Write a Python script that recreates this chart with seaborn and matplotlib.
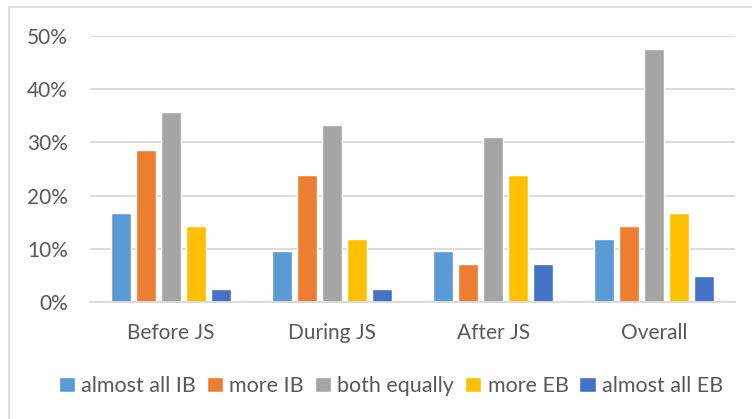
import matplotlib
matplotlib.use("Agg")
import matplotlib.pyplot as plt
from matplotlib.patches import Rectangle
from matplotlib.ticker import PercentFormatter
import seaborn as sns
import pandas as pd

# Share of respondents per phase (fractions)
phases = ["Before JS", "During JS", "After JS", "Overall"]
almost_all_ib = [0.167, 0.095, 0.095, 0.119]
more_ib = [0.286, 0.238, 0.071, 0.143]
both_equally = [0.357, 0.333, 0.310, 0.476]
more_eb = [0.143, 0.119, 0.238, 0.167]
almost_all_eb = [0.024, 0.024, 0.071, 0.048]

series_names = ["almost all IB", "more IB", "both equally", "more EB", "almost all EB"]
series_values = [almost_all_ib, more_ib, both_equally, more_eb, almost_all_eb]
palette = ["#5B9BD5", "#ED7D31", "#A5A5A5", "#FFC000", "#4472C4"]

rows = []
for name, vals in zip(series_names, series_values):
    for phase, v in zip(phases, vals):
        rows.append({"phase": phase, "series": name, "share": v})
df = pd.DataFrame(rows)

sns.set_theme(style="white")
plt.rcParams["font.family"] = ["Lato", "DejaVu Sans"]
text_color = "#595959"
grid_color = "#D9D9D9"

fig = plt.figure(figsize=(7.52, 4.19), dpi=100)
ax = fig.add_axes([90 / 752, 1 - 302 / 419, (735 - 90) / 752, (302 - 36) / 419])

sns.barplot(
    data=df, x="phase", y="share", hue="series",
    hue_order=series_names, order=phases, palette=palette,
    width=0.775, gap=0.2, saturation=1, ax=ax, legend=True,
)

ax.set_ylim(0, 0.5)
ax.set_xlim(-0.5, 3.5)
ax.set_yticks([0, 0.1, 0.2, 0.3, 0.4, 0.5])
ax.yaxis.set_major_formatter(PercentFormatter(1.0, decimals=0))
ax.yaxis.grid(True, color=grid_color, linewidth=1.3)
ax.set_axisbelow(True)
for side in ["top", "right", "left"]:
    ax.spines[side].set_visible(False)
ax.spines["bottom"].set_color(grid_color)
ax.spines["bottom"].set_linewidth(1.3)
ax.set_xlabel("")
ax.set_ylabel("")
ax.tick_params(axis="both", length=0, labelsize=15, colors=text_color)
ax.tick_params(axis="y", pad=16)
ax.tick_params(axis="x", pad=15)

handles, labels = ax.get_legend_handles_labels()
ax.get_legend().remove()
fig.legend(
    handles, labels, loc="center", bbox_to_anchor=(391 / 752, 1 - 386 / 419),
    ncol=5, frameon=False, fontsize=15.5, labelcolor=text_color,
    handlelength=0.75, handleheight=0.75, handletextpad=0.3, columnspacing=0.5,
)

# Chart frame
fig.patches.append(Rectangle((8.5 / 752, -0.1), 1.2, 1 - 7.5 / 419 + 0.1,
                             transform=fig.transFigure, fill=False,
                             edgecolor=grid_color, linewidth=1.2))

fig.savefig("out.png", dpi=100, facecolor="white")
